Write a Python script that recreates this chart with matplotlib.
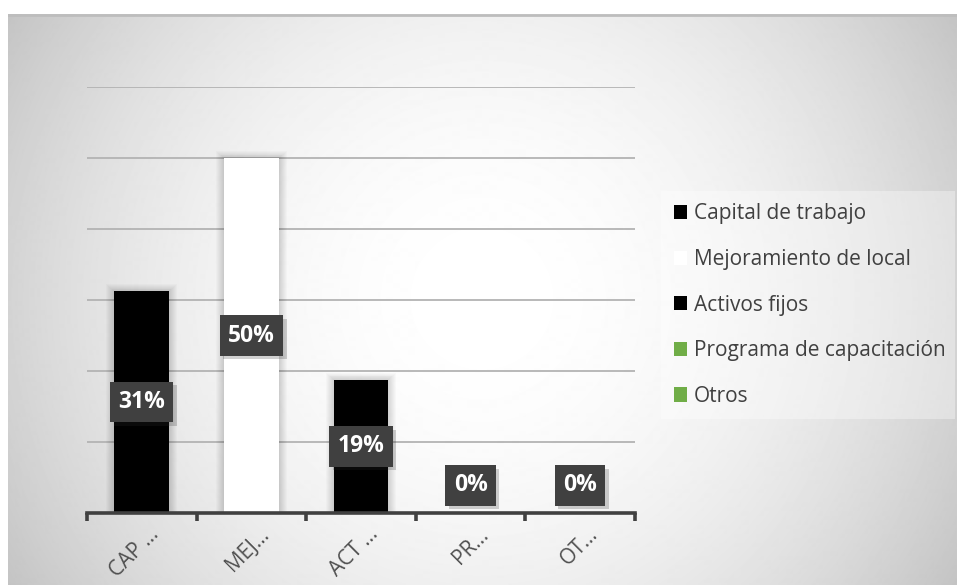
import numpy as np
import matplotlib
matplotlib.use("Agg")
import matplotlib.pyplot as plt
from matplotlib.patches import Patch
from matplotlib import patheffects

# data
categories = ["Capital de trabajo", "Mejoramiento de local", "Activos fijos",
              "Programa de capacitación", "Otros"]
short_labels = ["CAP …", "MEJ…", "ACT …", "PR…", "OT…"]
values = [0.3125, 0.50, 0.1875, 0.0, 0.0]
value_labels = ["31%", "50%", "19%", "0%", "0%"]
bar_colors = ["#000000", "#ffffff", "#000000", "#70ad47", "#70ad47"]

W, H = 957, 587
plt.rcParams['font.family'] = ['Open Sans', 'DejaVu Sans']

fig = plt.figure(figsize=(W / 100, H / 100), dpi=100)
fig.patch.set_facecolor("white")


def frac(x0, y0, x1, y1):
    # pixel box (top-left origin) -> figure fraction rect
    return [x0 / W, 1 - y1 / H, (x1 - x0) / W, (y1 - y0) / H]


# radial background
cx0, cy0, cx1, cy1 = 8, 14, 957, 586
bg = fig.add_axes(frac(cx0, cy0, cx1, cy1), zorder=-10)
xs = np.arange(cx0, cx1) + 0.5
ys = np.arange(cy0, cy1) + 0.5
gx, gy = np.meshgrid(xs, ys)
d2 = (gx - (cx0 + cx1) / 2) ** 2 + (gy - (cy0 + cy1) / 2) ** 2
shade = np.clip(1 - 7.6e-7 * d2, 0.7, 1)
bg.imshow(shade, cmap="gray", vmin=0, vmax=1, aspect="auto",
          interpolation="bilinear")
bg.plot([0, cx1 - cx0], [0.5, 0.5], color="#bdbdbd", lw=2)
bg.set_xlim(0, cx1 - cx0)
bg.set_ylim(cy1 - cy0, 0)
bg.axis("off")

# main axes
ax = fig.add_axes(frac(87, 87, 635, 513))
ax.patch.set_alpha(0)
x = np.arange(len(categories))

# soft shadow around bars
for k in range(1, 9):
    ax.bar(x, [v + k * 0.0012 if v > 0 else 0 for v in values],
           width=0.5 + 2 * k / 110, color="black", alpha=0.018, zorder=1,
           linewidth=0)
ax.bar(x, values, width=0.5, color=bar_colors, zorder=2, linewidth=0)

ax.set_xlim(-0.5, len(categories) - 0.5)
ax.set_ylim(0, 0.6)
ax.set_yticks(np.arange(0.1, 0.61, 0.1))
ax.yaxis.grid(True, color="#b3b3b3", lw=1.3, zorder=0)
ax.set_axisbelow(True)
ax.tick_params(axis="y", length=0, labelleft=False)
for s in ["left", "right", "top"]:
    ax.spines[s].set_visible(False)
ax.spines["bottom"].set_color("#404040")
ax.spines["bottom"].set_linewidth(2.6)
ax.spines["bottom"].set_zorder(5)

ax.set_xticks(x)
ax.set_xticklabels([])
ax.tick_params(axis="x", which="major", length=0)
ax.set_xticks(np.arange(-0.5, len(categories)), minor=True)
ax.tick_params(axis="x", which="minor", length=6, width=2.6,
               color="#404040", direction="out")

for i, lab in enumerate(short_labels):
    ax.annotate(lab, xy=(i, 0), xycoords=("data", "axes fraction"),
                xytext=(7, -11), textcoords="offset pixels",
                rotation=45, rotation_mode="anchor", ha="right", va="top",
                fontsize=15, color="#505050")

# value labels
for i, (v, lab) in enumerate(zip(values, value_labels)):
    t = ax.text(i, max(v / 2, 0.039), lab, ha="center", va="center",
                fontsize=16.5, fontweight="bold", color="white", zorder=6,
                bbox=dict(boxstyle="square,pad=0.36", facecolor="#404040",
                          edgecolor="none"))
    t.get_bbox_patch().set_path_effects([
        patheffects.withSimplePatchShadow(offset=(2.5, -2.5),
                                          shadow_rgbFace="#303030", alpha=0.22),
        patheffects.Normal()])

# legend
handles = [Patch(facecolor=c, edgecolor="none") for c in bar_colors]
leg = fig.legend(handles, categories, loc="upper left", mode="expand",
                 bbox_to_anchor=(661 / W, 1 - 417 / H, 294 / W, 226 / H),
                 borderaxespad=0, fontsize=15, labelcolor="#404040",
                 frameon=True, fancybox=False, framealpha=0.35,
                 edgecolor="none", facecolor="white", handlelength=0.67,
                 handleheight=0.67, handletextpad=0.3, labelspacing=1.18,
                 borderpad=0.6)

fig.savefig("out.png", dpi=100)
